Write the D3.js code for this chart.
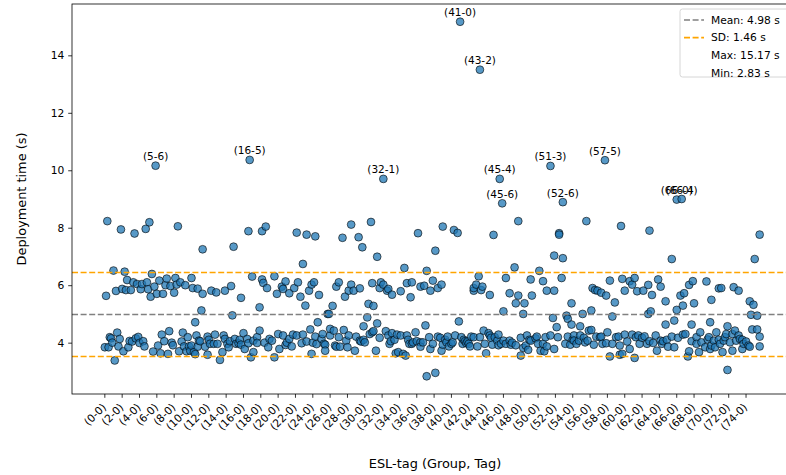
<!DOCTYPE html>
<html><head><meta charset="utf-8">
<script src="https://cdn.jsdelivr.net/npm/d3@7"></script>
<style>body{margin:0;background:#fff}svg text{font-family:"DejaVu Sans",sans-serif;fill:#000}</style>
</head><body><svg id="chart" width="786" height="475"></svg>
<script>
// Deployment time (s) per ESL-tag: one list per group, entries are [tag, seconds]
const groupTimes = [
 [[0,3.84],[1,5.63],[2,8.23],[3,3.84],[4,4.19],[5,4.15],[6,4.0]],
 [[0,6.51],[1,3.38],[2,5.8],[3,4.35],[4,3.87],[5,4.13],[6,7.94]],
 [[0,5.87],[1,3.7],[2,6.47],[3,5.83],[4,6.18],[5,3.84],[6,4.06]],
 [[0,5.83],[1,4.04],[2,6.1],[3,7.8],[4,4.15],[5,6.04],[6,4.2]],
 [[0,3.99],[1,5.86],[2,6.04],[3,4.05],[4,3.87],[5,7.96],[6,6.1]],
 [[0,5.86],[1,8.19],[2,5.6],[3,6.39],[4,3.69],[5,5.95],[6,10.16]],
 [[0,5.7],[1,3.9],[2,6.16],[3,3.63],[4,4.28],[5,5.7],[6,4.05]],
 [[0,6.0],[1,6.23],[2,3.61],[3,4.4],[4,5.97],[5,4.0],[6,3.91]],
 [[0,5.74],[1,6.25],[2,6.02],[3,8.05],[4,3.7],[5,6.1],[6,4.04]],
 [[0,4.35],[1,3.87],[2,6.0],[3,3.7],[4,4.19],[5,3.87],[6,3.72]],
 [[0,6.25],[0,3.9],[1,5.9],[2,3.67],[3,4.71],[3,3.6],[4,4.25],[5,5.88],[5,3.86],[6,4.07]],
 [[0,4.05],[1,5.12],[2,7.25],[2,5.7],[4,3.86],[6,3.58],[6,4.21]],
 [[0,4.1],[1,3.96],[2,5.81],[4,3.96],[5,4.28],[6,5.75]],
 [[0,3.96],[2,3.4],[4,3.67],[5,4.25],[6,4.13],[6,5.81]],
 [[1,3.96],[2,3.84],[3,4.05],[4,5.97],[5,4.95],[6,7.34]],
 [[0,4.13],[1,3.96],[3,3.98],[4,4.1],[5,5.56],[5,3.93]],
 [[0,4.33],[1,3.78],[3,4.13],[4,7.88],[4,3.98],[5,10.36],[6,3.49]],
 [[0,6.3],[1,4.07],[1,3.67],[4,4.19],[4,3.99],[6,4.42],[6,5.23]],
 [[1,6.2],[1,7.88],[2,6.08],[3,4.0],[4,8.04],[5,5.9],[6,3.84]],
 [[0,4.13],[2,4.07],[4,6.31],[4,3.49],[6,5.7]],
 [[0,4.3],[1,3.78],[3,5.95],[4,4.25],[4,5.87],[6,6.13],[6,3.92]],
 [[0,4.0],[2,5.72],[2,4.13],[4,3.87],[5,4.28],[6,5.9]],
 [[1,4.25],[1,7.83],[2,6.1],[4,5.6],[5,3.98],[6,4.28],[6,6.74]],
 [[1,5.29],[2,4.04],[2,7.76],[4,5.81],[5,4.46],[6,6.02],[6,3.61]],
 [[0,4.0],[1,6.1],[2,7.7],[2,4.21],[3,3.95],[4,4.71],[5,5.66]],
 [[0,4.13],[1,4.3],[2,3.96],[3,3.93],[3,3.72],[5,5.0],[6,5.0]],
 [[0,4.25],[0,4.48],[2,5.28],[3,4.42],[4,3.9],[5,3.86],[5,5.95]],
 [[0,6.1],[0,4.19],[1,3.86],[3,7.65],[4,4.44],[5,5.6],[6,4.07]],
 [[0,3.84],[1,4.25],[1,5.81],[3,6.02],[3,8.11],[5,5.81],[6,3.72]],
 [[0,4.21],[2,7.67],[3,5.89],[3,4.07],[4,4.04],[5,7.32],[6,4.57],[6,4.1]],
 [[0,4.01],[2,4.88],[3,5.35],[4,4.3],[5,8.2],[6,6.07],[6,4.36]],
 [[0,5.28],[0,4.4],[2,3.72],[3,6.99],[3,4.67],[5,4.17],[5,5.9],[6,6.1]],
 [[1,9.7],[1,6.02],[3,4.4],[4,5.81],[5,5.87],[5,4.25],[6,3.96]],
 [[0,4.05],[1,5.67],[1,4.33],[3,4.1],[4,3.63],[5,4.28],[6,3.67]],
 [[1,5.79],[1,4.25],[3,3.61],[4,6.6],[5,3.55],[6,6.07],[6,4.25]],
 [[0,4.1],[1,3.96],[2,5.58],[3,6.1],[3,3.96],[4,4.01],[6,4.36]],
 [[0,4.05],[1,7.81],[3,5.95],[3,4.01],[3,3.86],[5,4.01],[6,5.98]],
 [[0,4.6],[1,6.5],[1,2.83],[3,4.19],[4,5.81],[4,3.78],[6,6.16],[6,3.96]],
 [[1,2.95],[1,7.2],[3,5.9],[3,4.21],[5,4.17],[6,6.02],[6,3.72]],
 [[0,3.93],[0,8.04],[2,4.1],[3,4.01],[4,4.21],[5,3.87]],
 [[0,3.96],[1,4.01],[2,7.92],[3,4.25],[5,7.82],[6,4.74]],
 [[0,15.17],[1,4.19],[2,3.96],[3,4.1],[4,4.05],[5,3.98],[6,4.04]],
 [[0,3.96],[1,3.87],[2,4.21],[4,5.81],[4,5.9],[4,4.19],[6,6.02]],
 [[0,3.87],[1,6.31],[2,13.5],[2,4.19],[3,5.83],[4,5.95],[5,4.42],[6,3.96]],
 [[0,3.63],[2,4.33],[3,4.25],[3,5.66],[4,4.17],[5,3.93],[6,7.75]],
 [[0,4.19],[2,4.07],[3,4.28],[3,3.91],[4,9.7],[5,3.96],[6,8.85]],
 [[0,5.09],[0,4.07],[2,6.25],[2,3.96],[5,5.72],[5,4.07],[6,3.93]],
 [[0,4.0],[2,6.62],[3,5.37],[3,3.91],[5,5.64],[5,8.23]],
 [[0,4.17],[0,3.55],[2,3.82],[2,5.0],[3,5.37],[4,3.9],[5,4.25],[6,3.75]],
 [[0,4.1],[1,4.07],[1,6.2],[2,5.64],[5,4.15],[6,4.21]],
 [[0,3.96],[1,6.5],[2,3.72],[4,6.14],[4,3.96],[5,3.7],[6,4.19]],
 [[0,3.87],[0,5.81],[3,4.25],[3,10.15],[5,4.86],[6,5.81],[6,3.78],[6,7.03]],
 [[1,4.54],[2,4.19],[3,7.81],[3,7.76],[5,6.25],[6,8.89],[6,6.94]],
 [[1,3.96],[2,4.94],[3,4.21],[3,4.83],[5,3.93],[6,4.63],[6,5.37]],
 [[0,4.1],[1,4.25],[1,4.07],[3,3.96],[5,4.07],[6,4.25],[6,4.57]],
 [[1,5.0],[2,4.17],[3,4.01],[4,8.23],[5,4.07],[6,4.42]],
 [[1,5.12],[1,4.44],[2,5.9],[3,3.93],[4,5.83],[5,4.21],[6,5.81]],
 [[1,4.19],[2,5.74],[2,4.21],[3,3.96],[5,10.35],[6,5.64],[6,3.98]],
 [[0,4.36],[2,6.16],[2,3.52],[4,3.96],[4,4.91],[6,5.4]],
 [[0,4.19],[2,4.21],[3,3.58],[3,3.9],[4,8.06],[5,3.61],[5,6.22]],
 [[0,5.81],[0,4.28],[2,4.04],[4,6.14],[4,3.78],[6,6.02],[6,4.28]],
 [[1,6.25],[1,3.47],[2,4.19],[3,5.79],[4,4.25],[5,3.96]],
 [[0,4.17],[1,5.81],[2,4.22],[4,3.96],[5,6.01],[5,5.0],[6,7.9],[6,4.05]],
 [[0,5.09],[1,5.66],[2,3.99],[4,4.25],[5,3.72],[6,6.2]],
 [[1,4.07],[1,5.95],[2,3.96],[3,4.05],[5,4.63],[5,5.44],[6,4.1]],
 [[0,3.86],[3,4.21],[3,6.91],[5,3.84],[5,4.77]],
 [[0,8.98],[0,5.14],[1,4.17],[3,5.64],[4,9.0],[5,5.29],[5,4.28],[6,5.72]],
 [[0,4.3],[2,3.52],[3,6.01],[3,3.7],[5,4.05],[5,4.63],[6,6.14]],
 [[0,5.37],[2,4.19],[2,3.96],[4,3.67],[5,4.36],[6,4.01]],
 [[2,3.84],[3,6.13],[4,4.11],[5,4.19],[6,3.78],[6,4.71]],
 [[0,5.49],[0,3.9],[2,4.07],[3,3.84],[4,4.36],[6,5.89],[6,4.1]],
 [[0,3.96],[1,5.9],[2,3.67],[3,4.07],[4,4.19],[5,4.3],[6,4.57],[6,3.05]],
 [[1,4.01],[3,4.3],[3,3.72],[4,5.93],[5,4.42],[6,4.07]],
 [[1,4.25],[1,5.81],[2,4.13],[4,3.78],[4,4.1],[5,3.96]],
 [[0,4.04],[2,3.9],[3,3.86],[3,5.44],[4,4.97],[5,4.46],[6,5.32]],
 [[0,6.91],[2,4.94],[2,4.46],[4,3.87],[4,4.21],[4,7.76]]
];
const tagsPerGroup = 7;
const labeledTags = ["5-6","16-5","32-1","41-0","43-2","45-4","45-6","51-3","52-6","57-5","66-0","66-4"];
const xTickGroups = [0,2,4,6,8,10,12,14,16,18,20,22,24,26,28,30,32,34,36,38,40,42,44,46,48,50,52,54,56,58,60,62,64,66,68,70,72,74];
const xTickLabels = ["(0-0)","(2-0)","(4-0)","(6-0)","(8-0)","(10-0)","(12-0)","(14-0)","(16-0)","(18-0)","(20-0)","(22-0)","(24-0)","(26-0)","(28-0)","(30-0)","(32-0)","(34-0)","(36-0)","(38-0)","(40-0)","(42-0)","(44-0)","(46-0)","(48-0)","(50-0)","(52-0)","(54-0)","(56-0)","(58-0)","(60-0)","(62-0)","(64-0)","(66-0)","(68-0)","(70-0)","(72-0)","(74-0)"];
const yTicks = [4,6,8,10,12,14];
const meanTime = 4.98, sdTime = 1.46, maxTime = 15.17, minTime = 2.83;
const legendItems = [
  {label:"Mean: " + meanTime.toFixed(2) + " s", color:"#808080"},
  {label:"SD: " + sdTime.toFixed(2) + " s", color:"#FFA500"},
  {label:"Max: " + maxTime.toFixed(2) + " s", color:null},
  {label:"Min: " + minTime.toFixed(2) + " s", color:null}
];

const points = [];
groupTimes.forEach((list, g) => list.forEach(([t, v]) => points.push({g, t, v, key: g + "-" + t})));
const outlierCut = meanTime + 2.5 * sdTime;

const svg = d3.select("#chart");
const L = 72, T = 4, B = 394;
const x = d3.scaleLinear().domain([-3.79, 79.65]).range([L, 795]);
const y = d3.scaleLinear().domain([minTime - 0.617, maxTime + 0.617]).range([B, T]);
const pos = d => x(d.g + d.t / tagsPerGroup);

// points
svg.append("g").selectAll("circle").data(points).join("circle")
  .attr("cx", pos).attr("cy", d => y(d.v)).attr("r", 3.9)
  .attr("fill", "#1f77b4").attr("fill-opacity", 0.75)
  .attr("stroke", "#000").attr("stroke-opacity", 0.75).attr("stroke-width", 0.8);

// reference lines
const refs = [
  {v: meanTime, c: "#808080"},
  {v: meanTime + sdTime, c: "#FFA500"},
  {v: meanTime - sdTime, c: "#FFA500"}
];
svg.append("g").selectAll("line").data(refs).join("line")
  .attr("x1", L).attr("x2", 795).attr("y1", d => y(d.v)).attr("y2", d => y(d.v))
  .attr("stroke", d => d.c).attr("stroke-width", 1.6).attr("stroke-dasharray", "6,2.6");

// outlier annotations
svg.append("g").selectAll("text")
  .data(points.filter(d => labeledTags.includes(d.key) && d.v > outlierCut)).join("text")
  .attr("x", pos).attr("y", d => y(d.v) - 5.5)
  .attr("text-anchor", "middle").attr("font-size", 10.5)
  .text(d => "(" + d.key + ")");

// axes
const yAxis = svg.append("g").attr("transform", `translate(${L},0)`)
  .call(d3.axisLeft(y).tickValues(yTicks).tickSize(3.8).tickPadding(3.8).tickFormat(d3.format("d")));
yAxis.select(".domain").remove();
yAxis.selectAll("text").attr("font-size", 10.7).style("font-family", "DejaVu Sans");
yAxis.selectAll("line").attr("stroke", "#000").attr("stroke-width", 0.8);

const xg = svg.append("g");
xTickGroups.forEach((g, i) => {
  const tx = x(g);
  xg.append("line").attr("x1", tx).attr("x2", tx).attr("y1", B).attr("y2", B + 3.8)
    .attr("stroke", "#000").attr("stroke-width", 0.8);
  xg.append("text").attr("text-anchor", "end").attr("font-size", 10.7)
    .attr("transform", `translate(${tx + 2},${B + 14}) rotate(-45)`)
    .text(xTickLabels[i]);
});

// spines
svg.append("rect").attr("x", L).attr("y", T).attr("width", 795 - L).attr("height", B - T)
  .attr("fill", "none").attr("stroke", "#000").attr("stroke-width", 0.8);

// axis labels
svg.append("text").attr("x", 435).attr("y", 468).attr("text-anchor", "middle")
  .attr("font-size", 12.9).text("ESL-tag (Group, Tag)");
svg.append("text").attr("transform", "translate(26,199) rotate(-90)").attr("text-anchor", "middle")
  .attr("font-size", 12.9).text("Deployment time (s)");

// legend
const lg = svg.append("g").attr("transform", "translate(680,9)");
lg.append("rect").attr("width", 112).attr("height", 68).attr("rx", 2.5)
  .attr("fill", "#fff").attr("fill-opacity", 0.8).attr("stroke", "#ccc").attr("stroke-width", 0.8);
legendItems.forEach((it, i) => {
  const cy = 11 + i * 17.6;
  if (it.color) lg.append("line").attr("x1", 4).attr("x2", 24).attr("y1", cy).attr("y2", cy)
    .attr("stroke", it.color).attr("stroke-width", 1.6).attr("stroke-dasharray", "6,2.6");
  lg.append("text").attr("x", 31).attr("y", cy + 3.8).attr("font-size", 10.7).text(it.label);
});
</script></body></html>
